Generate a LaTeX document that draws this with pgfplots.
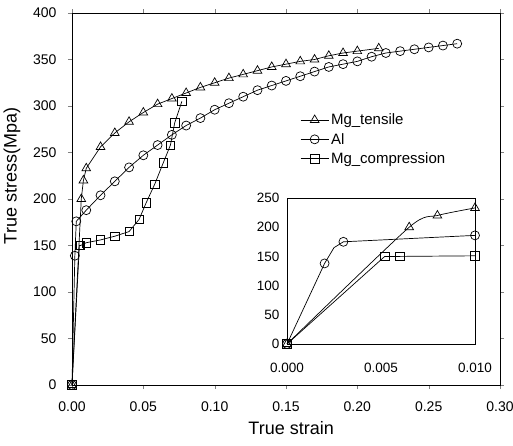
\documentclass[border=0pt]{standalone}
\usepackage{fontspec}
\setmainfont{Liberation Sans}
\usepackage{pgfplots}
\pgfplotsset{compat=1.18}
\begin{document}
\begin{tikzpicture}
\useasboundingbox (0,0) rectangle (513pt,445pt);
\pgfplotsset{
  every axis plot/.append style={black, line width=0.7pt},
  /pgf/number format/assume math mode=true,
}
\begin{axis}[
  at={(72pt,60pt)}, anchor=south west,
  scale only axis, width=428pt, height=372pt,
  xmin=0, xmax=0.30, ymin=0, ymax=400,
  xtick={0,0.05,...,0.30}, ytick={0,50,...,400},
  xticklabels={0.00,0.05,0.10,0.15,0.20,0.25,0.30},
  tick label style={font=\fontsize{14}{16}\selectfont},
  xticklabel style={yshift=-9pt},
  yticklabel style={xshift=-8pt},
  tick align=outside, major tick length=4pt,
  axis line style={black, line width=0.6pt},
  xlabel={True strain}, ylabel={True stress(Mpa)},
  every axis x label/.style={at={(axis description cs:0.512,-0.116)}, anchor=center, font=\fontsize{18}{20}\selectfont},
  every axis y label/.style={at={(axis description cs:-0.140,0.562)}, anchor=center, rotate=90, font=\fontsize{18}{20}\selectfont},
  legend style={at={(rel axis cs:0.533,0.735)}, anchor=north west, draw=none, fill=none,
    font=\fontsize{15}{17}\selectfont, row sep=3pt, inner sep=0pt},
  legend cell align=left,
  legend image code/.code={\draw[mark repeat=2,mark phase=2,#1] plot coordinates {(0pt,0pt) (14pt,0pt) (28pt,0pt)};},
  clip=false,
]
\addplot[mark=triangle, mark size=5pt, mark options={solid, fill=white}] coordinates {
(0,0) (0.0065,200) (0.008,220) (0.010,233) (0.02,256) (0.03,271) (0.04,283) (0.05,293)
(0.06,302) (0.07,308) (0.08,314) (0.09,320) (0.10,325) (0.11,330) (0.12,334) (0.13,338)
(0.14,342) (0.15,345) (0.16,348) (0.17,350) (0.18,354) (0.19,357) (0.20,359) (0.215,362)};
\addlegendentry{Mg\_tensile}
\addplot[mark=o, mark size=4.5pt, mark options={solid, fill=white}] coordinates {
(0,0) (0.002,139) (0.003,176) (0.01,188) (0.02,204) (0.03,219) (0.04,234) (0.05,247)
(0.06,258) (0.07,269) (0.08,279) (0.09,287) (0.10,296) (0.11,303) (0.12,310) (0.13,317)
(0.14,322) (0.15,327) (0.16,332) (0.17,337) (0.18,342) (0.19,345) (0.20,348) (0.21,353)
(0.22,357) (0.23,359) (0.24,361) (0.25,363) (0.26,365) (0.27,367)};
\addlegendentry{Al}
\addplot[mark=square, mark size=4.2pt, mark options={solid, fill=white}] coordinates {
(0,0) (0.0052,150) (0.006,150) (0.01,153) (0.02,156) (0.03,160) (0.04,165) (0.047,178)
(0.052,196) (0.058,216) (0.064,239) (0.069,258) (0.072,282) (0.077,305)};
\addlegendentry{Mg\_compression}
\end{axis}
\begin{axis}[
  at={(287pt,101pt)}, anchor=south west,
  scale only axis, width=188pt, height=146pt,
  xmin=0, xmax=0.010, ymin=0, ymax=250,
  xtick={0,0.005,0.010}, ytick={0,50,...,250},
  xticklabels={0.000,0.005,0.010},
  scaled x ticks=false,
  tick label style={font=\fontsize{13.5}{15}\selectfont},
  xticklabel style={yshift=-16pt},
  yticklabel style={xshift=-4pt},
  tick align=inside, major tick length=0pt,
  axis line style={black, line width=0.6pt},
  axis background/.style={fill=white},
  clip=false,
]
\addplot[smooth, tension=0.4, mark=triangle, mark size=5pt, mark options={solid, fill=white}] coordinates {
(0,0) (0.0065,200) (0.008,220) (0.010,233)};
\addplot[mark=o, mark indices={1,2,4,5}, mark size=4.5pt, mark options={solid, fill=white}] coordinates {
(0,0) (0.002,138) (0.0025,165) (0.003,175) (0.010,186)};
\addplot[mark=square, mark size=4.2pt, mark options={solid, fill=white}] coordinates {
(0,0) (0.0052,150) (0.006,150) (0.010,151)};
\end{axis}
\end{tikzpicture}
\end{document}
